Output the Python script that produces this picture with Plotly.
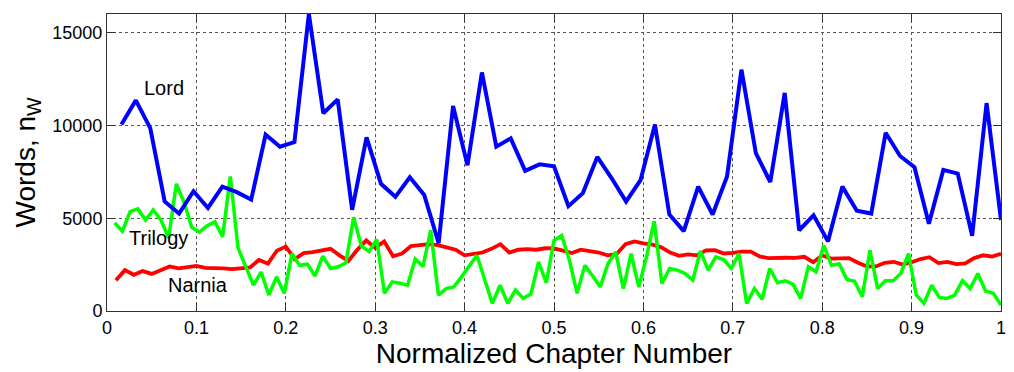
import numpy as np
import plotly.graph_objects as go

# ---- data (words per chapter, in thousands) ----
lord_k = [10.05, 11.35, 9.85, 5.9, 5.25, 6.45, 5.55, 6.7, 6.4, 6.0,
          9.5, 8.85, 9.1, 16.0, 10.65, 11.4, 5.45, 9.35, 6.85, 6.15,
          7.2, 6.25, 3.65, 11.05, 7.85, 12.85, 8.85, 9.3, 7.55, 7.9,
          7.8, 5.65, 6.35, 8.3, 7.15, 5.9, 7.05, 10.05, 5.2, 4.3,
          6.7, 5.2, 7.25, 13.0, 8.5, 6.95, 11.75, 4.35, 5.15, 3.75,
          6.7, 5.4, 5.25, 9.6, 8.35, 7.75, 4.7, 7.6, 7.4, 4.05,
          11.2, 4.9]

green_k = [4.75, 4.3, 5.35, 5.5, 4.9, 5.45, 4.9, 3.95, 6.85, 5.85, 4.5, 4.25, 4.6, 4.8, 4.0, 7.25,
           3.4, 2.4, 1.39, 2.1, 0.86, 1.84, 0.95, 3.09, 2.46, 2.52, 1.89, 2.96, 2.29, 2.38, 2.59,
           5.05, 3.5, 3.2, 3.85, 0.95, 1.57, 1.5, 1.39, 2.8, 2.4, 4.35, 0.86, 1.21, 1.3, 1.84, 2.4, 3.0, 1.7,
           0.41, 1.39, 0.41, 1.13, 0.68, 0.91, 2.64, 1.52, 3.8, 4.07, 2.73, 0.95, 2.46, 1.9, 1.3, 2.55, 3.18,
           1.21, 3.09, 1.3, 2.91, 4.84, 1.48, 2.29, 2.2, 2.02, 1.66, 3.23, 2.2, 2.91, 2.77, 2.29, 3.09,
           0.41, 1.21, 0.63, 2.29, 1.52, 1.63, 1.45, 0.68, 2.38, 2.11, 3.54, 2.46, 2.55, 1.7, 1.6,
           0.77, 3.27, 1.21, 1.63, 1.63, 2.02, 3.09, 0.86, 0.41, 1.39, 0.73, 0.68, 0.86, 1.63, 1.21,
           2.02, 1.07, 0.95, 0.32]

red_k = [1.65, 2.2, 1.95, 2.15, 2.0, 2.2, 2.4, 2.3, 2.38, 2.43,
         2.32, 2.33, 2.3, 2.26, 2.32, 2.35, 2.75, 2.55, 3.25, 3.47,
         2.8, 3.12, 3.17, 3.26, 3.35, 3.0, 2.7, 3.3, 3.8, 3.4,
         3.75, 2.95, 3.1, 3.5, 3.55, 3.6, 3.55, 3.4, 3.3, 3.0,
         3.05, 3.15, 3.35, 3.6, 3.15, 3.3, 3.33, 3.3, 3.38, 3.37,
         3.25, 3.12, 3.3, 3.23, 3.15, 3.0, 3.07, 3.6, 3.75, 3.64,
         3.58, 3.43, 3.15, 2.97, 3.05, 3.0, 3.27, 3.28, 3.1, 3.13,
         3.2, 3.2, 2.94, 2.85, 2.88, 2.87, 2.86, 2.92, 2.63, 3.0,
         2.82, 2.82, 2.85, 2.6, 2.4, 2.4, 2.6, 2.65, 2.5, 2.63,
         2.8, 2.9, 2.58, 2.65, 2.53, 2.57, 2.85, 3.0, 2.93, 3.08]

x_ticks = [0, 0.1, 0.2, 0.3, 0.4, 0.5, 0.6, 0.7, 0.8, 0.9, 1]
x_tick_labels = ["0", "0.1", "0.2", "0.3", "0.4", "0.5", "0.6", "0.7", "0.8", "0.9", "1"]
y_ticks = [0, 5000, 10000, 15000]
y_tick_labels = ["0", "5000", "10000", "15000"]

labels = ["Lord", "Trilogy", "Narnia"]
label_x = [0.064, 0.058, 0.102]
label_y = [12000, 3950, 1400]


def norm_x(vals):
    n = len(vals)
    return np.arange(1, n + 1) / n


FONT = "Liberation Sans, Arial, sans-serif"

fig = go.Figure()
for vals, color, w in [(red_k, "#ff0000", 3.8), (green_k, "#00ff00", 3.5), (lord_k, "#0000ff", 4)]:
    fig.add_trace(go.Scatter(
        x=norm_x(vals), y=np.array(vals) * 1000, mode="lines",
        line=dict(color=color, width=w), showlegend=False, hoverinfo="skip"))

for t, lx, ly in zip(labels, label_x, label_y):
    fig.add_annotation(x=lx, y=ly, text=t, showarrow=False,
                       font=dict(family=FONT, size=20, color="black"))

axis_common = dict(
    showline=True, linecolor="#333333", linewidth=1, mirror="ticks",
    ticks="inside", ticklen=8, tickwidth=1, tickcolor="#333333",
    showgrid=True, gridcolor="#555555", griddash="dot", gridwidth=1,
    zeroline=False, tickfont=dict(family=FONT, size=18, color="black"),
)

fig.update_layout(
    width=1014, height=372,
    margin=dict(l=107, r=8, t=14, b=61),
    paper_bgcolor="white", plot_bgcolor="white",
    font=dict(family=FONT, color="black"),
    xaxis=dict(range=[0, 1], tickvals=x_ticks, ticktext=x_tick_labels,
               title=dict(text="Normalized Chapter Number",
                          font=dict(family=FONT, size=28), standoff=2),
               **axis_common),
    yaxis=dict(range=[0, 16000], tickvals=y_ticks, ticktext=y_tick_labels,
               title=dict(text="Words, n<sub>W</sub>",
                          font=dict(family=FONT, size=28), standoff=8),
               **axis_common),
)

fig.write_html("out.html", config={"displayModeBar": False},
               post_script="document.body.style.margin='0';document.body.style.overflow='hidden';")
